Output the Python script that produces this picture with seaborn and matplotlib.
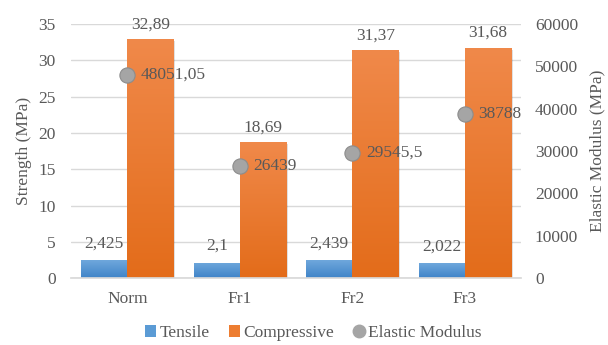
import numpy as np
import pandas as pd
import matplotlib
matplotlib.use("Agg")
import matplotlib.pyplot as plt
import seaborn as sns
from matplotlib.colors import LinearSegmentedColormap
from matplotlib.lines import Line2D
from matplotlib.patches import Patch
from matplotlib.font_manager import FontProperties

categories = ["Norm", "Fr1", "Fr2", "Fr3"]
tensile = [2.425, 2.1, 2.439, 2.022]
compressive = [32.89, 18.69, 31.37, 31.68]
elastic = [48051.05, 26439, 29545.5, 38788]

sns.set_theme(style="white")
plt.rcParams["font.family"] = ["Liberation Serif", "DejaVu Serif"]
text_col = "#595959"
fs = 12.5
font = FontProperties(family=["Liberation Serif", "DejaVu Serif"], size=fs)

df = pd.DataFrame({
    "cat": categories * 2,
    "series": ["Tensile"] * 4 + ["Compressive"] * 4,
    "value": tensile + compressive,
})

fig = plt.figure(figsize=(6.08, 3.45), dpi=100)
ax = fig.add_axes([0.117, 0.194, 0.74, 0.736])

palette = {"Tensile": "#5B9BD5", "Compressive": "#ED7D31"}
sns.barplot(data=df, x="cat", y="value", hue="series", palette=palette,
            width=0.82, ax=ax, legend=False, saturation=1)

ax.set_ylim(0, 35)
ax.set_xlim(-0.5, 3.5)
ax.set_yticks(range(0, 36, 5))
ax.yaxis.grid(True, color="#D9D9D9", linewidth=1)
ax.set_axisbelow(True)
for s in ["top", "right", "left"]:
    ax.spines[s].set_visible(False)
ax.spines["bottom"].set_color("#D9D9D9")
ax.tick_params(axis="y", length=0, colors=text_col, pad=11)
ax.tick_params(axis="x", length=0, colors=text_col, pad=9)
ax.set_xlabel("")
ax.set_ylabel("Strength (MPa)", fontproperties=font, color=text_col,
              labelpad=5)

# gradient fills with a soft drop shadow
grads = {
    "#5b9bd5": LinearSegmentedColormap.from_list("b", ["#3F83C8", "#6FA8DC"]),
    "#ed7d31": LinearSegmentedColormap.from_list("o", ["#E36C1A", "#F0894A"]),
}
grad = np.linspace(0, 1, 256).reshape(-1, 1)
for patch in list(ax.patches):
    x0, y0 = patch.get_x(), patch.get_y()
    w, h = patch.get_width(), patch.get_height()
    fc = matplotlib.colors.to_hex(patch.get_facecolor()).lower()
    cmap = grads.get(fc)
    if cmap is None:
        continue
    shadow = plt.Rectangle((x0 + 0.014, y0), w, h - 0.2, color="#000000",
                           alpha=0.12, zorder=patch.get_zorder() - 0.1, lw=0)
    ax.add_patch(shadow)
    im = ax.imshow(grad, cmap=cmap, extent=[x0, x0 + w, y0, y0 + h],
                   origin="lower", aspect="auto", zorder=patch.get_zorder())
    im.set_clip_path(patch)
    patch.set_edgecolor("none")
ax.set_xlim(-0.5, 3.5)
ax.set_ylim(0, 35)


def fmt(v):
    return str(int(v)) if float(v).is_integer() else str(v).replace(".", ",")


bw = 0.41
for i, (t, c) in enumerate(zip(tensile, compressive)):
    ax.text(i - bw / 2, t + 1.2, fmt(t), ha="center", va="bottom",
            fontproperties=font, color=text_col)
    ax.text(i + bw / 2, c + 1.0, fmt(c), ha="center", va="bottom",
            fontproperties=font, color=text_col)

ax2 = ax.twinx()
ax2.set_ylim(0, 60000)
ax2.set_yticks(range(0, 60001, 10000))
for s in ax2.spines.values():
    s.set_visible(False)
ax2.tick_params(axis="y", length=0, colors=text_col, pad=10)
ax2.set_ylabel("Elastic Modulus (MPa)", fontproperties=font, color=text_col,
               labelpad=8)
sns.scatterplot(x=np.arange(len(categories)), y=elastic, ax=ax2, s=120,
                color="#A5A5A5", edgecolor="#8C8C8C", linewidth=0.8,
                zorder=5, legend=False)
for i, e in enumerate(elastic):
    ax2.text(i + 0.12, e, fmt(e), ha="left", va="center",
             fontproperties=font, color=text_col, zorder=6)
ax2.set_xlim(-0.5, 3.5)

for lab in ax.get_xticklabels() + ax.get_yticklabels() + ax2.get_yticklabels():
    lab.set_fontproperties(font)

handles = [
    Patch(facecolor="#5B9BD5", edgecolor="none", label="Tensile"),
    Patch(facecolor="#ED7D31", edgecolor="none", label="Compressive"),
    Line2D([], [], marker="o", linestyle="none", markersize=9,
           markerfacecolor="#A5A5A5", markeredgecolor="#A5A5A5",
           label="Elastic Modulus"),
]
leg = fig.legend(handles=handles, loc="center", bbox_to_anchor=(0.515, 0.035),
                 ncol=3, frameon=False, prop=font, handlelength=0.65,
                 handleheight=0.65, handletextpad=0.2, columnspacing=1.1,
                 labelcolor=text_col)

fig.savefig("out.png", dpi=100)
